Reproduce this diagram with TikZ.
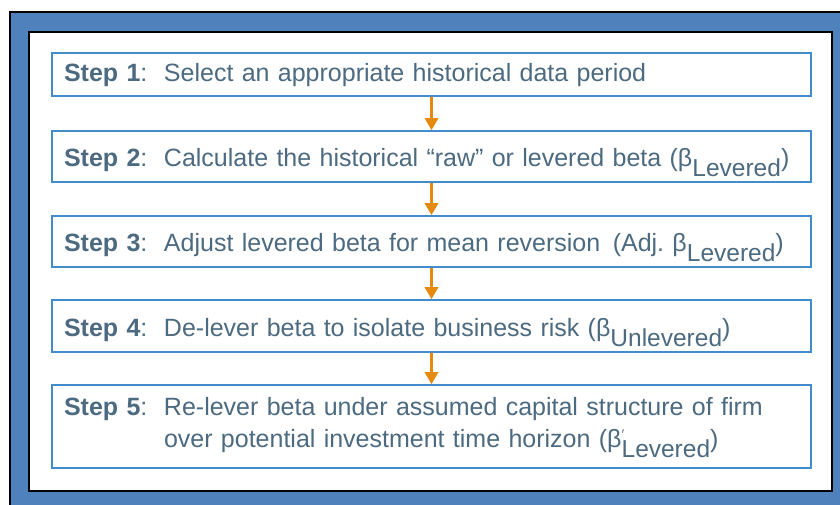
\documentclass[tikz,border=0pt]{standalone}
\usepackage{fontspec}
\setmainfont{Liberation Sans}
\usetikzlibrary{arrows.meta}

\definecolor{frameblue}{RGB}{79,129,189}
\definecolor{boxblue}{RGB}{66,140,206}
\definecolor{steptext}{RGB}{76,106,128}
\definecolor{flowarrow}{RGB}{229,137,15}

\tikzset{
	stepbox/.style={draw=boxblue, line width=1.6pt, fill=white, text=steptext,
		minimum width=759pt, text width=735pt, inner xsep=12pt, align=left,
		font=\fontsize{25}{32}\selectfont},
	subline/.style={text height=20pt, text depth=0pt},
	flow/.style={-{Triangle[width=13pt,length=12pt]}, flowarrow, line width=3.8pt}
}

\newcommand{\steplabel}[1]{\makebox[100pt][l]{\textbf{Step #1}:}}
\newcommand{\lowsub}[1]{\raisebox{-10pt}{\fontsize{24.5}{24.5}\selectfont #1}}

\begin{document}
\frenchspacing
\begin{tikzpicture}[x=1pt, y=-1pt]
		\useasboundingbox (0,0) rectangle (840,504);

		% frame
		\filldraw[fill=frameblue, draw=black, line width=2pt] (10,12) rectangle (846,510);
		\filldraw[fill=white, draw=black, line width=2.2pt] (29,32) rectangle (832,491);

		\node[stepbox, minimum height=43pt, text height=18pt, text depth=4pt] (s1) at (431.5,74.5)
			{\steplabel{1}Select an appropriate historical data period};
		\node[stepbox, subline, minimum height=51pt] (s2) at (431.5,156.5)
			{\steplabel{2}Calculate the historical “raw” or levered beta (β\lowsub{Levered})};
		\node[stepbox, subline, minimum height=51pt] (s3) at (431.5,241.5)
			{\steplabel{3}Adjust levered beta for mean reversion \,(Adj. β\lowsub{Levered})};
		\node[stepbox, subline, minimum height=52pt] (s4) at (431.5,326)
			{\steplabel{4}De-lever beta to isolate business risk (β\lowsub{Unlevered})};
		\node[stepbox, minimum height=83pt, text height=18pt, text depth=40pt] (s5) at (431.5,426.5)
			{\steplabel{5}\parbox[t]{630pt}{Re-lever beta under assumed capital structure of firm\\
				over potential investment time horizon (β\rlap{\raisebox{8pt}{\fontsize{14}{14}\selectfont ′}}\lowsub{Levered})}};

		\foreach \a/\b in {s1/s2, s2/s3, s3/s4, s4/s5}
		{
			\draw[flow] (\a) -- (\b);
		}
\end{tikzpicture}
\end{document}
